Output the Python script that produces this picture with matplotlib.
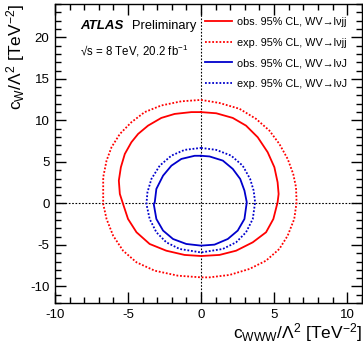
import matplotlib
matplotlib.use("Agg")
import matplotlib.pyplot as plt
from matplotlib.lines import Line2D
from matplotlib.ticker import MultipleLocator

plt.rcParams['font.family'] = ['Liberation Sans', 'DejaVu Sans']
plt.rcParams['mathtext.fontset'] = 'custom'
plt.rcParams['mathtext.rm'] = 'Liberation Sans'
plt.rcParams['mathtext.it'] = 'Liberation Sans:italic'
plt.rcParams['mathtext.bf'] = 'Liberation Sans:bold'

# 95% CL contours in the (cWWW, cW) plane, points going clockwise from the top
exp_jj_x = [0, 1.26, 2.63, 3.77, 4.68, 5.36, 5.93, 6.31, 6.5, 6.54,
            6.38, 5.93, 5.36, 4.45, 3.31, 1.95, 0.58, 0,
            -1.58, -3.17, -4.42, -5.34, -6.02, -6.47, -6.7,
            -6.7, -6.7, -6.47, -6.13, -5.56, -4.77, -3.86, -2.72, -1.35]
exp_jj_y = [12.47, 12.1, 11.4, 10.18, 8.77, 7.17, 5.36, 3.55, 1.95, 0.14,
            -1.87, -3.88, -5.48, -6.89, -7.89, -8.61, -8.9, -8.9,
            -8.7, -8.1, -7.09, -5.69, -3.88, -1.87, -0.06,
            1.14, 3.16, 5.16, 6.77, 8.37, 9.78, 11.0, 11.8, 12.3]

obs_jj_x = [0, 1.04, 2.17, 3.08, 3.88, 4.56, 5.02, 5.24, 5.31, 5.24,
            4.95, 4.45, 3.54, 2.4, 1.26, 0,
            -1.13, -2.38, -3.52, -4.42, -5.0, -5.34,
            -5.56, -5.63, -5.49, -5.22, -4.77, -4.31, -3.63, -2.72, -1.81, -0.67]
obs_jj_y = [11.0, 10.86, 10.3, 9.37, 7.97, 6.17, 4.36, 2.55, 1.14, 0.14,
            -1.87, -3.47, -4.68, -5.69, -6.2, -6.33,
            -6.2, -5.69, -4.88, -3.47, -1.87, -0.06,
            1.14, 2.75, 4.36, 5.96, 7.37, 8.37, 9.37, 10.3, 10.78, 11.0]

exp_J_x = [0, 1.04, 2.06, 2.85, 3.36, 3.6, 3.7,
           3.54, 3.08, 2.4, 1.49, 0,
           -1.47, -2.38, -3.06, -3.52, -3.74,
           -3.67, -3.4, -2.83, -2.03, -1.13]
exp_J_y = [6.69, 6.45, 5.76, 4.55, 2.95, 1.55, 0.14,
           -1.87, -3.47, -4.68, -5.48, -5.9,
           -5.48, -4.68, -3.47, -1.87, -0.06,
           1.35, 2.95, 4.55, 5.76, 6.45]

obs_J_x = [0, 0.58, 1.49, 2.17, 2.68, 2.97, 3.13,
           2.97, 2.51, 1.83, 0.92, 0,
           -1.01, -1.92, -2.6, -3.06, -3.24,
           -3.17, -3.06, -2.6, -2.03, -1.35, -0.44]
obs_J_y = [5.74, 5.66, 5.16, 4.16, 2.95, 1.55, 0.14,
           -1.87, -3.27, -4.28, -4.96, -5.08,
           -4.88, -4.28, -3.27, -1.87, -0.06,
           0.14, 1.75, 3.35, 4.55, 5.36, 5.74]

labels = ['obs. 95% CL, WV→lνjj',
          'exp. 95% CL, WV→lνjj',
          'obs. 95% CL, WV→lνJ',
          'exp. 95% CL, WV→lνJ']

red = '#ff0000'
blue = '#0000cc'


def closed(xs, ys):
    return list(xs) + [xs[0]], list(ys) + [ys[0]]


fig = plt.figure(figsize=(3.63, 3.46), dpi=100)
ax = fig.add_axes([0.1515, 0.124, 0.845, 0.864])

ax.axhline(0, color='black', lw=0.8, ls=(0, (1.5, 1.5)), zorder=1)
ax.axvline(0, color='black', lw=0.8, ls=(0, (1.5, 1.5)), zorder=1)

dots = (0, (1, 1))
x, y = closed(obs_jj_x, obs_jj_y)
ax.plot(x, y, color=red, lw=1.3)
x, y = closed(exp_jj_x, exp_jj_y)
ax.plot(x, y, color=red, lw=1.3, ls=dots)
x, y = closed(obs_J_x, obs_J_y)
ax.plot(x, y, color=blue, lw=1.3)
x, y = closed(exp_J_x, exp_J_y)
ax.plot(x, y, color=blue, lw=1.3, ls=dots)

ax.set_xlim(-10, 11)
ax.set_ylim(-12, 24)
ax.xaxis.set_major_locator(MultipleLocator(5))
ax.xaxis.set_minor_locator(MultipleLocator(1))
ax.yaxis.set_major_locator(MultipleLocator(5))
ax.yaxis.set_minor_locator(MultipleLocator(1))
ax.tick_params(which='both', direction='in', top=True, right=True, width=1.0)
ax.tick_params(which='major', length=8, labelsize=9.5, pad=4)
ax.tick_params(which='minor', length=4)
ax.set_xticks([-10, -5, 0, 5, 10])
ax.set_xticklabels(['-10', '-5', '0', '5', '10'])
ax.set_yticks([-10, -5, 0, 5, 10, 15, 20])
ax.set_yticklabels(['-10', '-5', '0', '5', '10', '15', '20'])
for s in ax.spines.values():
    s.set_linewidth(1.0)

ax.set_xlabel(r'$\mathrm{c_{WWW}/\Lambda^{2}\ [TeV^{-2}]}$', fontsize=12.5,
              loc='right', labelpad=0)
ax.set_ylabel(r'$\mathrm{c_{W}/\Lambda^{2}\ [TeV^{-2}]}$', fontsize=12.5,
              loc='top', labelpad=2)

ax.text(0.081, 0.926, 'ATLAS', transform=ax.transAxes, fontsize=9.5,
        fontweight='bold', fontstyle='italic', va='center')
ax.text(0.25, 0.926, 'Preliminary', transform=ax.transAxes, fontsize=9.3,
        va='center')
ax.text(0.083, 0.843, '√s = 8 TeV, 20.2 fb$^{\\mathrm{-1}}$',
        transform=ax.transAxes, fontsize=8.3, va='center')

handles = [Line2D([], [], color=red, lw=1.3),
           Line2D([], [], color=red, lw=1.3, ls=dots),
           Line2D([], [], color=blue, lw=1.3),
           Line2D([], [], color=blue, lw=1.3, ls=dots)]
ax.legend(handles, labels, loc='upper left', bbox_to_anchor=(0.49, 0.957),
          frameon=False, fontsize=7.8, handlelength=2.5, handletextpad=0.45,
          labelspacing=0.98, borderpad=0, borderaxespad=0)

fig.savefig('out.png', dpi=100)
